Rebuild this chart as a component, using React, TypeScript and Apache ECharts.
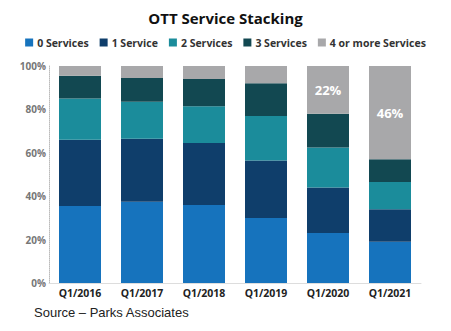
import React, { useEffect, useRef } from "react";
import * as echarts from "echarts";

const categories = ["Q1/2016", "Q1/2017", "Q1/2018", "Q1/2019", "Q1/2020", "Q1/2021"];
const seriesNames = ["0 Services", "1 Service", "2 Services", "3 Services", "4 or more Services"];
const zeroServices = [35.5, 37.5, 36, 30, 23, 19];
const oneService = [30.5, 29, 28.5, 26.5, 21, 15];
const twoServices = [19, 17, 17, 20.5, 18.5, 12.5];
const threeServices = [10.5, 11, 12.5, 15, 15.5, 10.5];
const fourPlusServices = [4.5, 5.5, 6, 8, 22, 43];
const fourPlusLabels = ["", "", "", "", "22%", "46%"];
const yTicks = [0, 20, 40, 60, 80, 100];
const colors = ["#1673bd", "#0f3e6b", "#1b8c9b", "#124851", "#a8a8aa"];

export default function App() {
  const ref = useRef<HTMLDivElement>(null);
  useEffect(() => {
    if (!ref.current) return;
    const chart = echarts.init(ref.current, null, { renderer: "svg" });
    const data = [zeroServices, oneService, twoServices, threeServices, fourPlusServices];
    chart.setOption({
      animation: false,
      title: {
        text: "OTT Service Stacking",
        left: "center",
        top: 5,
        textStyle: { fontFamily: "Open Sans", fontWeight: "bold", fontSize: 15, color: "#111" },
      },
      legend: {
        top: 32,
        left: "center",
        icon: "rect",
        itemWidth: 8,
        itemHeight: 8,
        itemGap: 11,
        textStyle: { fontFamily: "Open Sans", fontWeight: "bold", fontSize: 10.5, color: "#333", padding: [0, 0, 0, -1] },
        data: seriesNames,
      },
      grid: { left: 49, right: 30, top: 66, bottom: 48 },
      xAxis: {
        type: "category",
        data: categories,
        axisLine: { lineStyle: { color: "#ddd" } },
        axisTick: { show: false },
        axisLabel: { fontFamily: "Open Sans", fontWeight: "bold", fontSize: 10.5, color: "#222", margin: 4 },
      },
      yAxis: {
        type: "value",
        min: 0,
        max: 100,
        interval: 20,
        axisLine: { show: true, lineStyle: { color: "#bbb", type: "dotted" } },
        axisTick: { show: false },
        splitLine: { show: false },
        axisLabel: {
          fontFamily: "Open Sans",
          fontWeight: "bold",
          fontSize: 10,
          color: "#777",
          margin: 3,
          formatter: (v: number) => (yTicks.includes(v) ? v + "%" : ""),
        },
      },
      series: seriesNames.map((name, i) => ({
        name,
        type: "bar",
        stack: "total",
        barWidth: 42,
        itemStyle: { color: colors[i] },
        data: data[i],
        label:
          i === 4
            ? {
                show: true,
                position: "inside",
                color: "#fff",
                fontFamily: "Open Sans",
                fontWeight: "bold",
                fontSize: 13,
                formatter: (p: any) => fourPlusLabels[p.dataIndex],
              }
            : { show: false },
      })),
      graphic: [
        {
          type: "text",
          left: 34,
          top: 306,
          style: { text: "Source – Parks Associates", fontFamily: "Liberation Sans", fontSize: 13, fill: "#222" },
        },
      ],
    });
    return () => chart.dispose();
  }, []);
  return <div ref={ref} style={{ position: "absolute", left: 0, top: 0, width: 451, height: 331 }} />;
}
